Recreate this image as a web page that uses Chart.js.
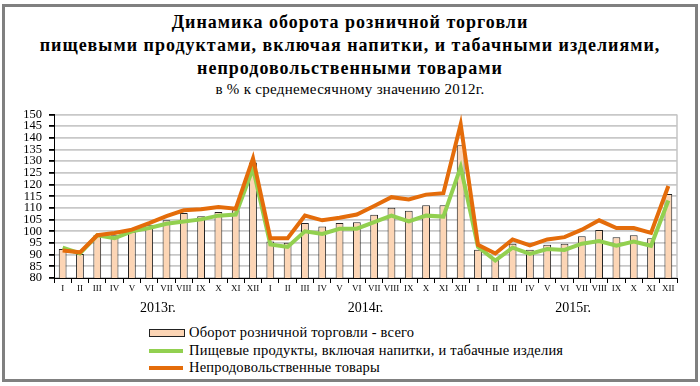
<!DOCTYPE html>
<html>
<head>
<meta charset="utf-8">
<script src="https://cdn.jsdelivr.net/npm/chart.js@4.4.1/dist/chart.umd.min.js"></script>
<style>
  html, body { margin: 0; padding: 0; background: #fff; }
  #wrap { position: relative; width: 700px; height: 386px; overflow: hidden; font-family: "Liberation Serif", "DejaVu Serif", serif; }
  #frame { position: absolute; left: 2px; top: 4px; width: 690px; height: 372px; border: 3px solid #808080; }
  .t { position: absolute; left: 0; width: 700px; text-align: center; white-space: nowrap; }
  .tb { font-weight: bold; font-size: 18px; color: #000; letter-spacing: 1px; }
  .ts { font-size: 15px; color: #000; letter-spacing: 0.3px; }
  #c { position: absolute; left: 0; top: 100px; }
  .lg { position: absolute; left: 149px; font-size: 14.5px; white-space: nowrap; letter-spacing: 0.2px; }
  .lg span.sym { position: absolute; left: 0; width: 34px; }
  .lg span.txt { position: absolute; left: 40px; top: -9px; }
</style>
</head>
<body>
<div id="wrap">
  <div id="frame"></div>
  <div class="t tb" style="top:12px">Динамика оборота розничной торговли</div>
  <div class="t tb" style="top:35px">пищевыми продуктами, включая напитки, и табачными изделиями,</div>
  <div class="t tb" style="top:58px">непродовольственными товарами</div>
  <div class="t ts" style="top:81px">в % к среднемесячному значению 2012г.</div>
  <canvas id="c" width="700" height="220"></canvas>
  <div id="legend"></div>
</div>
<script>
const months = ['I','II','III','IV','V','VI','VII','VIII','IX','X','XI','XII'];
const years = ['2013г.','2014г.','2015г.'];
const labels = [...months, ...months, ...months];

const seriesNames = ['Оборот розничной торговли - всего', 'Пищевые продукты, включая напитки, и табачные изделия', 'Непродовольственные товары'];

const total = [92.4,90.3,98.3,98.3,99.8,102.8,104.7,107.8,106.4,108.3,109,129.5,
  95.6,95.1,103.5,102,103.5,103.9,107.1,110.1,108.8,111.1,111.1,136.8,
  92.1,88.5,94.7,92.1,94.2,94.7,97.9,100.5,97.5,98.3,97,116];
const food = [93,90.5,98.3,97,100,101.4,103.2,104.2,105.1,106.7,107.2,127,
  94.4,93.3,100,98.9,101.1,101.1,103.9,106.7,104.2,106.7,106.3,127.5,
  93.3,87.5,93,90.3,92.4,92,94.7,95.8,93.8,95.6,93.8,113.2];
const nonfood = [91.8,91,98.3,99.3,100.7,103.5,106.5,109,109.4,110.4,109.7,131.2,
  97,97,106.7,104.7,105.8,107.2,110.8,114.6,113.6,115.7,116.3,145.8,
  94.2,90.5,96.5,94,96.5,97.5,100.7,104.7,101.4,101.4,99.3,119.4];

const colors = { bar: '#fcd5b5', food: '#92d050', nonfood: '#e46c0a' };
const serif = '"Liberation Serif", "DejaVu Serif", serif';

// year labels under the months + gray right border of the plot
const extras = {
  id: 'extras',
  beforeDatasetsDraw(chart) {
    const ctx = chart.ctx, a = chart.chartArea;
    ctx.save();
    ctx.strokeStyle = '#c4c4c4'; ctx.lineWidth = 1.5;
    ctx.beginPath(); ctx.moveTo(a.right, a.top); ctx.lineTo(a.right, a.bottom); ctx.stroke();
    ctx.restore();
  },
  afterDraw(chart) {
    const ctx = chart.ctx, x = chart.scales.x, a = chart.chartArea;
    ctx.save();
    ctx.font = '14px ' + serif; ctx.fillStyle = '#000';
    ctx.textAlign = 'center'; ctx.textBaseline = 'middle';
    years.forEach((y, i) => {
      const px = (x.getPixelForValue(i*12+5) + x.getPixelForValue(i*12+6)) / 2;
      ctx.fillText(y, px, a.bottom + 30);
    });
    ctx.restore();
  }
};

new Chart(document.getElementById('c'), {
  data: {
    labels: labels,
    datasets: [
      { type: 'line', label: seriesNames[2], data: nonfood, borderColor: colors.nonfood, borderWidth: 4, pointRadius: 0, tension: 0, order: 1 },
      { type: 'line', label: seriesNames[1], data: food, borderColor: colors.food, borderWidth: 4, pointRadius: 0, tension: 0, order: 2 },
      { type: 'bar', label: seriesNames[0], data: total, backgroundColor: colors.bar, borderColor: '#222', borderWidth: 1, barPercentage: 0.9, categoryPercentage: 0.5, order: 3 }
    ]
  },
  options: {
    responsive: false, animation: false,
    layout: { padding: { left: 0, right: 23, top: 10, bottom: 0 } },
    plugins: { legend: { display: false }, tooltip: { enabled: false } },
    scales: {
      x: {
        afterFit: s => { s.height = 42; },
        grid: { offset: true, drawOnChartArea: false, drawTicks: true, tickLength: 5, tickColor: '#000' },
        border: { color: '#000' },
        ticks: { autoSkip: false, maxRotation: 0, padding: 0, color: '#000', font: { family: serif, size: 9 } }
      },
      y: {
        min: 80, max: 150,
        afterFit: s => { s.width = 54; },
        grid: { color: '#c8c8c8', lineWidth: 1.8, tickColor: '#000', tickLength: 5 },
        border: { color: '#000' },
        ticks: { stepSize: 5, autoSkip: false, padding: 7, color: '#000', font: { family: serif, size: 12.5 } }
      }
    }
  },
  plugins: [extras]
});

// legend as plain html, three rows
const lg = document.getElementById('legend');
const rows = [
  { name: seriesNames[0], y: 333, sym: 'height:6px; margin-top:-4px; background:' + colors.bar + '; border:1px solid #222;' },
  { name: seriesNames[1], y: 351, sym: 'height:4px; margin-top:-2px; background:' + colors.food + ';' },
  { name: seriesNames[2], y: 368, sym: 'height:4px; margin-top:-2px; background:' + colors.nonfood + ';' }
];
rows.forEach(r => {
  const d = document.createElement('div');
  d.className = 'lg'; d.style.top = r.y + 'px';
  d.innerHTML = '<span class="sym" style="' + r.sym + '"></span><span class="txt">' + r.name + '</span>';
  lg.appendChild(d);
});
</script>
</body>
</html>
